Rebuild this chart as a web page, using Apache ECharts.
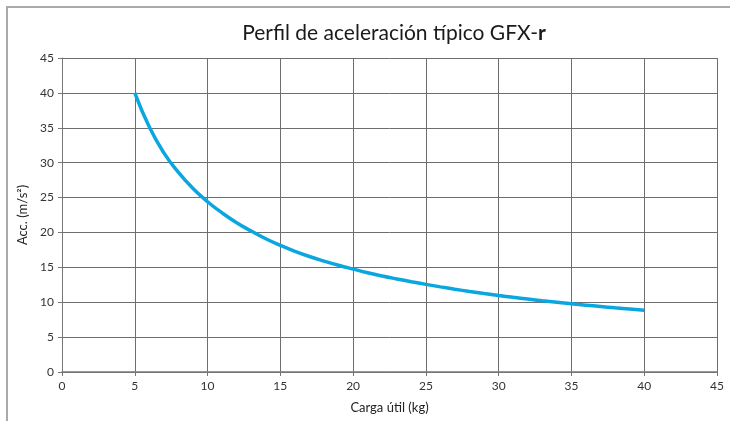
<!DOCTYPE html>
<html><head><meta charset="utf-8">
<script src="https://cdn.jsdelivr.net/npm/echarts@6/dist/echarts.min.js"></script>
<style>html,body{margin:0;padding:0;background:#fff}#c{width:730px;height:421px}</style>
</head><body><div id="c"></div>
<script>
var loads = [5,6,7,8,9,10,11,12,13,14,15,16,17,18,19,20,21,22,23,24,25,26,27,28,29,30,31,32,33,34,35,36,37,38,39,40];
var accel = [40,35.1,31.4,28.6,26.3,24.4,22.8,21.4,20.2,19.1,18.15,17.3,16.55,15.9,15.3,14.75,14.22,13.76,13.34,12.94,12.56,12.2,11.86,11.54,11.24,10.96,10.7,10.45,10.21,9.99,9.78,9.58,9.39,9.2,9.02,8.85];
var xTicks = [0,5,10,15,20,25,30,35,40,45];
var yTicks = [0,5,10,15,20,25,30,35,40,45];
var titleText = 'Perfil de aceleración típico GFX-';
var titleBold = 'r';
var xName = 'Carga útil (kg)';
var yName = 'Acc. (m/s²)';

var font = 'Lato, "DejaVu Sans", sans-serif';
var chart = echarts.init(document.getElementById('c'), null, {renderer:'canvas'});
chart.setOption({
  animation:false,
  graphic:[{type:'rect', shape:{x:7,y:7,width:740,height:430}, style:{fill:'none', stroke:'#aaaaaa', lineWidth:2}, silent:true}],
  title:{
    text:'{n|'+titleText+'}{b|'+titleBold+'}',
    left:389, top:18, textAlign:'center',
    textStyle:{fontWeight:'normal', fontSize:21, rich:{
      n:{fontSize:21, color:'#1a1a1a', fontWeight:'normal', fontFamily:font},
      b:{fontSize:21, color:'#1a1a1a', fontWeight:'bold', fontFamily:font}
    }}
  },
  grid:{left:62, right:13, top:58, bottom:49},
  xAxis:{
    type:'value', min:xTicks[0], max:xTicks[xTicks.length-1], interval:5,
    name:xName, nameLocation:'middle', nameGap:29,
    nameTextStyle:{fontSize:13, color:'#222', fontFamily:font},
    axisLine:{show:true, lineStyle:{color:'#777', width:1.5}},
    axisTick:{show:true, length:4, lineStyle:{color:'#777'}},
    axisLabel:{fontSize:12, color:'#333', margin:8, fontFamily:font},
    splitLine:{show:true, lineStyle:{color:'#6e6e6e', width:1}}
  },
  yAxis:{
    type:'value', min:yTicks[0], max:yTicks[yTicks.length-1], interval:5,
    name:yName, nameLocation:'middle', nameGap:25,
    nameTextStyle:{fontSize:13, color:'#222', fontFamily:font},
    axisLine:{show:true, lineStyle:{color:'#777', width:1}},
    axisTick:{show:true, length:4, lineStyle:{color:'#777'}},
    axisLabel:{fontSize:12, color:'#333', margin:8, fontFamily:font},
    splitLine:{show:true, lineStyle:{color:'#6e6e6e', width:1}}
  },
  series:[{
    type:'line', smooth:true, showSymbol:false,
    data: loads.map(function(x,i){return [x, accel[i]];}),
    lineStyle:{color:'#0aa6e0', width:3.5}
  }]
});
</script></body></html>
